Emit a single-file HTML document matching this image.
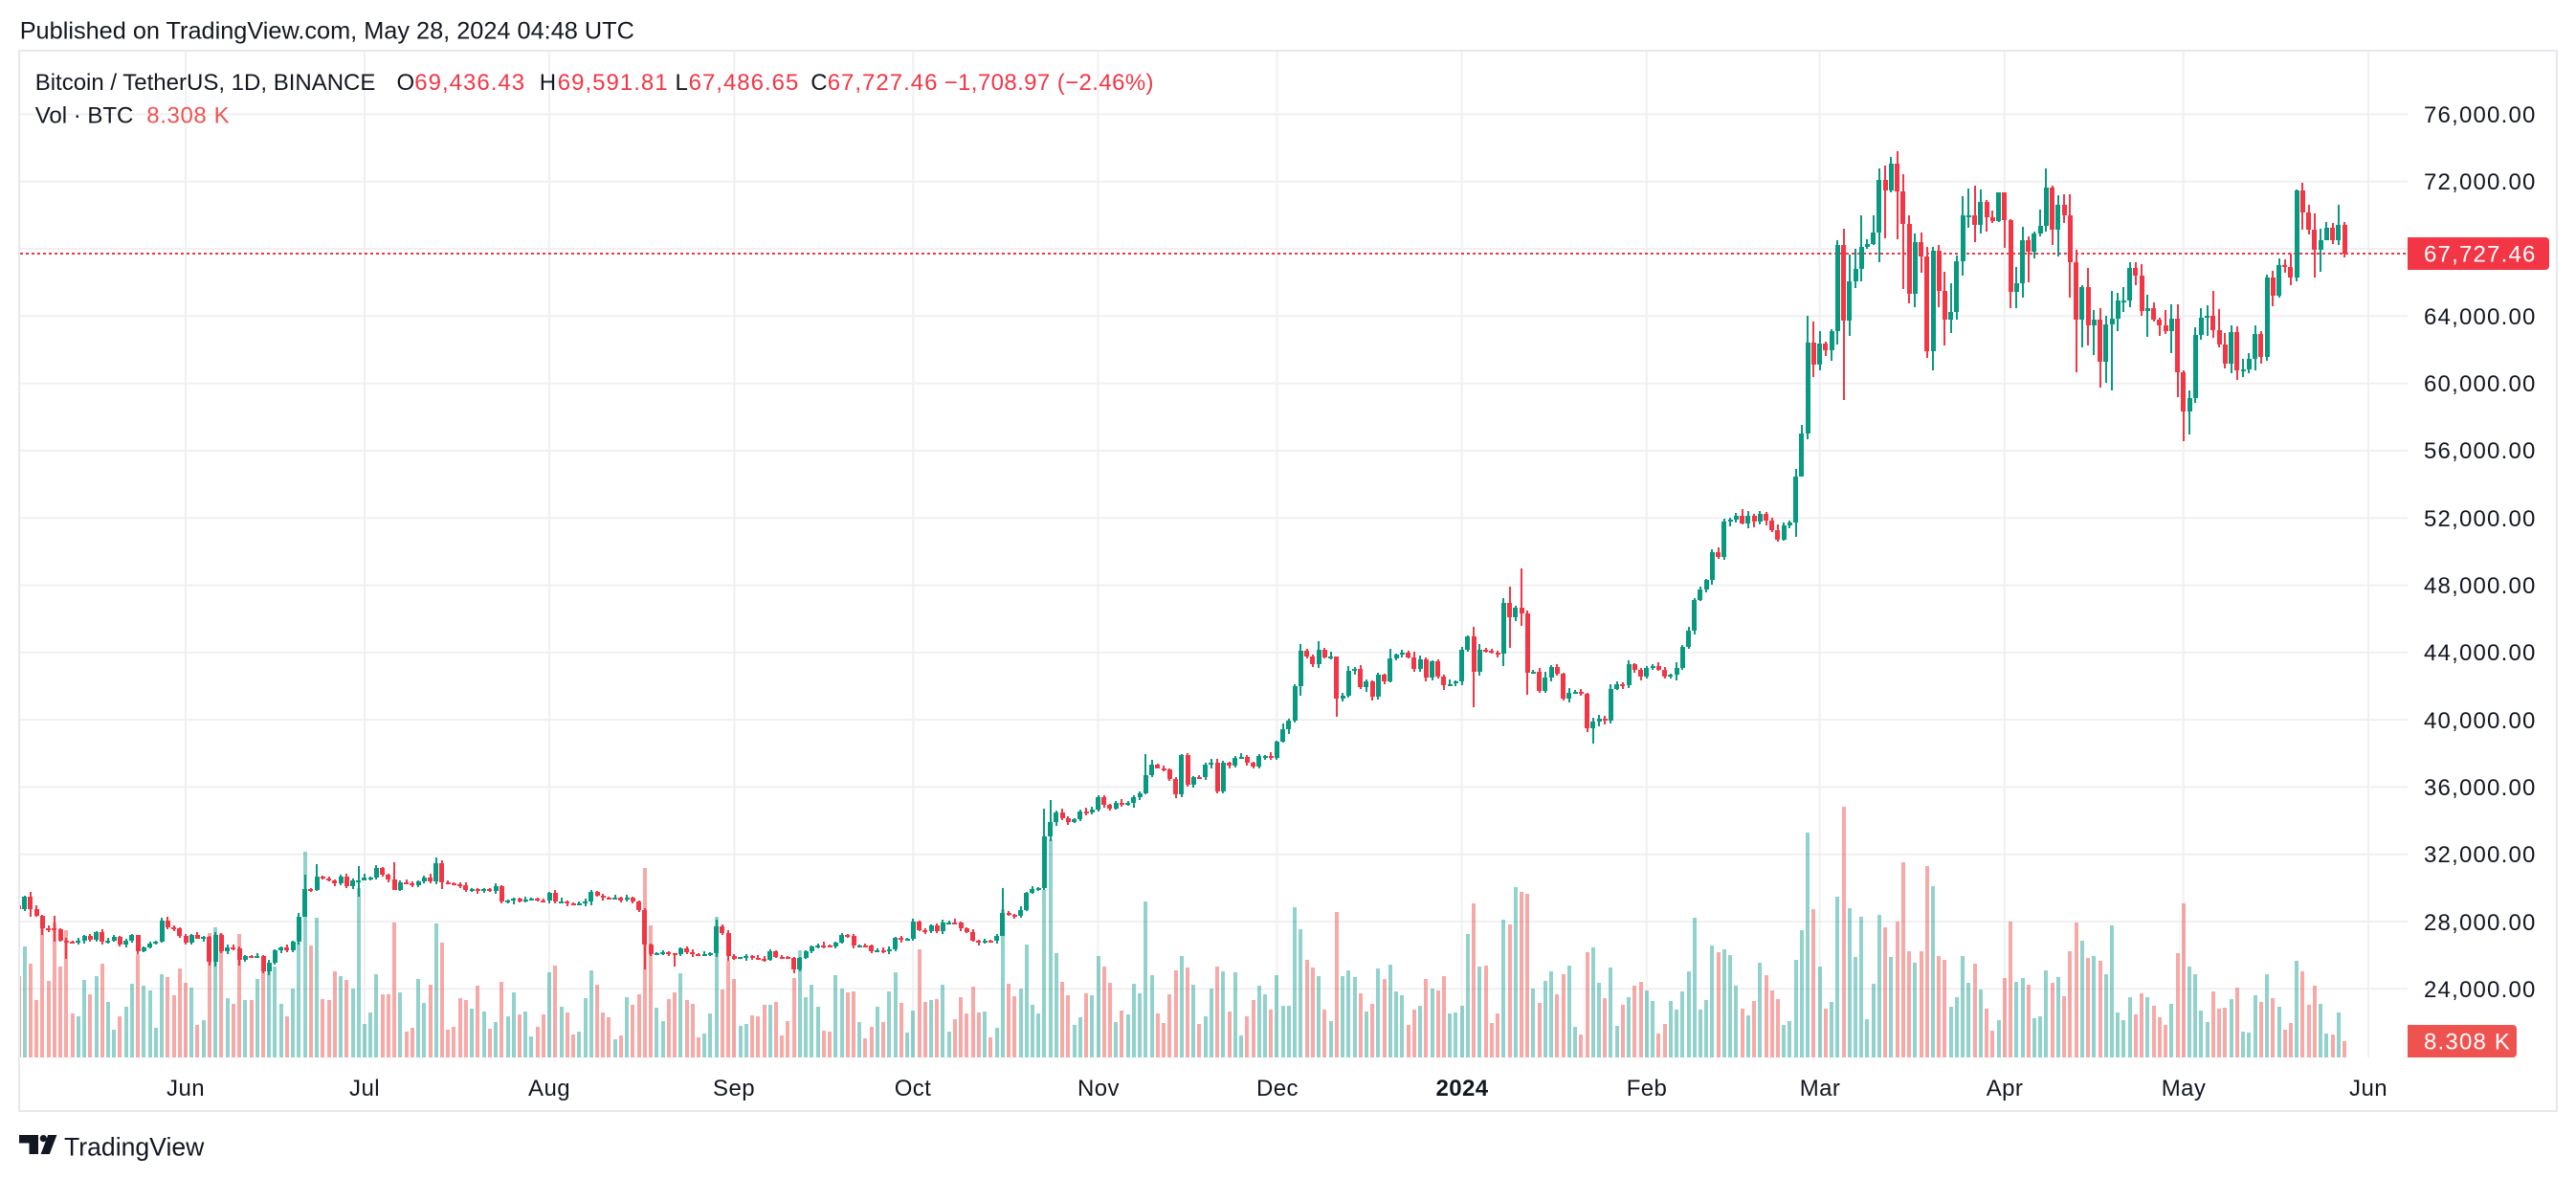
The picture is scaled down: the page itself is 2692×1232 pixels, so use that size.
<!DOCTYPE html>
<html><head><meta charset="utf-8"><style>
html,body{margin:0;padding:0;background:#fff;width:2692px;height:1232px;overflow:hidden;position:relative}
svg{display:block;font-family:"Liberation Sans",Arial,sans-serif;position:absolute;left:0;top:0}
#pane{position:absolute;left:21px;top:54px;width:2495px;height:1051px;overflow:hidden}
#pane i{position:absolute;display:block;width:4px;--a:1.5;--b:1.5;
 --vh:calc((855 - var(--v)) * 0.3333px);
 left:calc(171px + var(--i) * 6.2322px);
 top:calc(1051px - var(--vh));
 height:var(--vh);
 --H:var(--h,calc(var(--hi) + var(--c) * 0.0022 * var(--a)));
 --L:var(--l,calc(var(--lo) - var(--c) * 0.0022 * var(--b)));}
#pane i:nth-child(2n){--a:0.9}
#pane i:nth-child(3n){--b:2.4}
#pane i:nth-child(5n+1){--a:2.6}
#pane i:nth-child(7n+3){--b:0.6}
#pane i:nth-child(11n+4){--a:3.4}
#pane i:nth-child(13n+6){--b:3.2}
#pane i::before{content:"";position:absolute;left:1px;width:2px;
 top:calc(119.4px + (76000 - var(--H)) * 0.017575px - 1105px + var(--vh));
 height:calc((var(--H) - var(--L)) * 0.017575px);background:var(--col)}
#pane i::after{content:"";position:absolute;left:-0.5px;width:5px;
 top:calc(119.4px + (76000 - var(--hi)) * 0.017575px - 1105px + var(--vh));
 height:calc((var(--hi) - var(--lo)) * 0.017575px);min-height:2px;background:var(--col)}
#pane i.u{--hi:var(--c);--lo:var(--o);--col:#089981;background:rgba(38,166,154,.5)}
#pane i.d{--hi:var(--o);--lo:var(--c);--col:#f23645;background:rgba(239,83,80,.5)}
</style></head><body>
<svg xmlns="http://www.w3.org/2000/svg" width="2692" height="1232" viewBox="0 0 2692 1232">
<rect width="2692" height="1232" fill="#fff"/>
<g stroke="#f0f0f2" stroke-width="2">
<line x1="194" y1="54" x2="194" y2="1105"/>
<line x1="381" y1="54" x2="381" y2="1105"/>
<line x1="574" y1="54" x2="574" y2="1105"/>
<line x1="767.4" y1="54" x2="767.4" y2="1105"/>
<line x1="954.3" y1="54" x2="954.3" y2="1105"/>
<line x1="1147.5" y1="54" x2="1147.5" y2="1105"/>
<line x1="1334.5" y1="54" x2="1334.5" y2="1105"/>
<line x1="1527.6" y1="54" x2="1527.6" y2="1105"/>
<line x1="1720.8" y1="54" x2="1720.8" y2="1105"/>
<line x1="1901.6" y1="54" x2="1901.6" y2="1105"/>
<line x1="2094.8" y1="54" x2="2094.8" y2="1105"/>
<line x1="2281.7" y1="54" x2="2281.7" y2="1105"/>
<line x1="2475" y1="54" x2="2475" y2="1105"/>
<line x1="21" y1="119.4" x2="2516" y2="119.4"/>
<line x1="21" y1="189.7" x2="2516" y2="189.7"/>
<line x1="21" y1="260" x2="2516" y2="260"/>
<line x1="21" y1="330.3" x2="2516" y2="330.3"/>
<line x1="21" y1="400.6" x2="2516" y2="400.6"/>
<line x1="21" y1="470.9" x2="2516" y2="470.9"/>
<line x1="21" y1="541.2" x2="2516" y2="541.2"/>
<line x1="21" y1="611.5" x2="2516" y2="611.5"/>
<line x1="21" y1="681.8" x2="2516" y2="681.8"/>
<line x1="21" y1="752.1" x2="2516" y2="752.1"/>
<line x1="21" y1="822.4" x2="2516" y2="822.4"/>
<line x1="21" y1="892.7" x2="2516" y2="892.7"/>
<line x1="21" y1="963" x2="2516" y2="963"/>
<line x1="21" y1="1033.3" x2="2516" y2="1033.3"/>
</g>
<line x1="21" y1="265" x2="2516" y2="265" stroke="#f23645" stroke-width="2" stroke-dasharray="3 3"/>
<rect x="20" y="53" width="2652" height="1108" fill="none" stroke="#e8e8ee" stroke-width="2"/>

<g font-size="24" fill="#131722" letter-spacing="1.2">
<text x="2533" y="128">76,000.00</text>
<text x="2533" y="198">72,000.00</text>
<text x="2533" y="339">64,000.00</text>
<text x="2533" y="409">60,000.00</text>
<text x="2533" y="479">56,000.00</text>
<text x="2533" y="550">52,000.00</text>
<text x="2533" y="620">48,000.00</text>
<text x="2533" y="690">44,000.00</text>
<text x="2533" y="761">40,000.00</text>
<text x="2533" y="831">36,000.00</text>
<text x="2533" y="901">32,000.00</text>
<text x="2533" y="972">28,000.00</text>
<text x="2533" y="1042">24,000.00</text>
</g>
<path d="M2516 248 H2660 a4 4 0 0 1 4 4 V278 a4 4 0 0 1 -4 4 H2516 Z" fill="#f23645"/>
<text x="2533" y="273.5" font-size="24" fill="#fff" letter-spacing="1.2">67,727.46</text>
<path d="M2516 1071 H2626 a4 4 0 0 1 4 4 V1101 a4 4 0 0 1 -4 4 H2516 Z" fill="#ef5350"/>
<text x="2533" y="1096.5" font-size="24" fill="#fff" letter-spacing="1.2">8.308 K</text>

<g font-size="24" fill="#131722" text-anchor="middle" letter-spacing="0.4">
<text x="194" y="1145">Jun</text>
<text x="381" y="1145">Jul</text>
<text x="574" y="1145">Aug</text>
<text x="767" y="1145">Sep</text>
<text x="954" y="1145">Oct</text>
<text x="1148" y="1145">Nov</text>
<text x="1335" y="1145">Dec</text>
<text x="1528" y="1145" font-weight="bold">2024</text>
<text x="1721" y="1145">Feb</text>
<text x="1902" y="1145">Mar</text>
<text x="2095" y="1145">Apr</text>
<text x="2282" y="1145">May</text>
<text x="2475" y="1145">Jun</text>
</g>

<text x="20.7" y="40.7" font-size="25.3" fill="#131722">Published on TradingView.com, May 28, 2024 04:48 UTC</text>
<g font-size="24">
<text x="36.7" y="94" fill="#131722">Bitcoin / TetherUS, 1D, BINANCE</text>
<text x="414.5" y="94" fill="#131722">O</text>
<text x="433.3" y="94" fill="#f23645" letter-spacing="1">69,436.43</text>
<text x="563.8" y="94" fill="#131722">H</text>
<text x="582.8" y="94" fill="#f23645" letter-spacing="1">69,591.81</text>
<text x="705.5" y="94" fill="#131722">L</text>
<text x="719.6" y="94" fill="#f23645" letter-spacing="1">67,486.65</text>
<text x="847.3" y="94" fill="#131722">C</text>
<text x="864.7" y="94" fill="#f23645" letter-spacing="1">67,727.46</text>
<text x="986.6" y="94" fill="#f23645" letter-spacing="0.4">−1,708.97 (−2.46%)</text>
<text x="36.7" y="128.3" fill="#131722">Vol · BTC</text>
<text x="153.3" y="128.3" fill="#ef5350" letter-spacing="0.6">8.308 K</text>
</g>

<g fill="#131722">
<path d="M20 1186 H40 V1206 H30.5 V1194.5 H20 Z"/>
<circle cx="45.3" cy="1189.6" r="3.6"/>
<path d="M50.2 1186 H59.4 L51.8 1206 H42.6 Z"/>
</g>
<text x="67" y="1207.7" font-size="26.6" fill="#131722">TradingView</text>
</svg>

<div id="pane">
<i class="d" style="--i:-28;--o:28970;--c:28740;--v:600"></i>
<i class="u" style="--i:-27;--o:28740;--c:29480;--v:507"></i>
<i class="d" style="--i:-26;--o:29480;--c:28740;--v:561;--h:29760;--l:28300"></i>
<i class="d" style="--i:-25;--o:28740;--c:28360;--v:675"></i>
<i class="d" style="--i:-24;--o:28360;--c:27600;--v:450;--h:28380;--l:27220"></i>
<i class="d" style="--i:-23;--o:27600;--c:27580;--v:615"></i>
<i class="d" style="--i:-22;--o:27580;--c:27560;--v:432;--h:28330;--l:26800"></i>
<i class="d" style="--i:-21;--o:27560;--c:26880;--v:570"></i>
<i class="d" style="--i:-20;--o:26880;--c:26790;--v:456;--h:27050;--l:25800"></i>
<i class="d" style="--i:-19;--o:26790;--c:26720;--v:717"></i>
<i class="u" style="--i:-18;--o:26720;--c:26860;--v:726"></i>
<i class="u" style="--i:-17;--o:26860;--c:27150;--v:612"></i>
<i class="d" style="--i:-16;--o:27150;--c:26920;--v:657"></i>
<i class="u" style="--i:-15;--o:26920;--c:27370;--v:600"></i>
<i class="d" style="--i:-14;--o:27370;--c:26800;--v:561"></i>
<i class="u" style="--i:-13;--o:26800;--c:26860;--v:681"></i>
<i class="u" style="--i:-12;--o:26860;--c:27090;--v:768"></i>
<i class="d" style="--i:-11;--o:27090;--c:26650;--v:726"></i>
<i class="u" style="--i:-10;--o:26650;--c:26860;--v:696"></i>
<i class="u" style="--i:-9;--o:26860;--c:27200;--v:624"></i>
<i class="d" style="--i:-8;--o:27200;--c:26250;--v:531;--h:27220;--l:26080"></i>
<i class="u" style="--i:-7;--o:26250;--c:26480;--v:630"></i>
<i class="u" style="--i:-6;--o:26480;--c:26690;--v:645"></i>
<i class="u" style="--i:-5;--o:26690;--c:26800;--v:762"></i>
<i class="u" style="--i:-4;--o:26800;--c:28060;--v:594;--h:28200;--l:26760"></i>
<i class="d" style="--i:-3;--o:28060;--c:27660;--v:603"></i>
<i class="d" style="--i:-2;--o:27660;--c:27600;--v:660"></i>
<i class="d" style="--i:-1;--o:27600;--c:27150;--v:576"></i>
<i class="d" style="--i:0;--o:27150;--c:26750;--v:621"></i>
<i class="u" style="--i:1;--o:26750;--c:27220;--v:636"></i>
<i class="d" style="--i:2;--o:27220;--c:27000;--v:753"></i>
<i class="u" style="--i:3;--o:27000;--c:27100;--v:738"></i>
<i class="d" style="--i:4;--o:27100;--c:25610;--v:465;--h:27130;--l:25390"></i>
<i class="u" style="--i:5;--o:25610;--c:27220;--v:447;--h:27350;--l:25350"></i>
<i class="d" style="--i:6;--o:27220;--c:26230;--v:465"></i>
<i class="u" style="--i:7;--o:26230;--c:26460;--v:669"></i>
<i class="d" style="--i:8;--o:26460;--c:26400;--v:687"></i>
<i class="d" style="--i:9;--o:26400;--c:25720;--v:468;--h:26530;--l:25400"></i>
<i class="u" style="--i:10;--o:25720;--c:25950;--v:675"></i>
<i class="d" style="--i:11;--o:25950;--c:25900;--v:675"></i>
<i class="u" style="--i:12;--o:25900;--c:25950;--v:609"></i>
<i class="d" style="--i:13;--o:25950;--c:25040;--v:585"></i>
<i class="u" style="--i:14;--o:25040;--c:25550;--v:585;--h:25750;--l:24800"></i>
<i class="u" style="--i:15;--o:25550;--c:26290;--v:570"></i>
<i class="u" style="--i:16;--o:26290;--c:26460;--v:687"></i>
<i class="d" style="--i:17;--o:26460;--c:26290;--v:726"></i>
<i class="u" style="--i:18;--o:26290;--c:26800;--v:639"></i>
<i class="u" style="--i:19;--o:26800;--c:28280;--v:495"></i>
<i class="u" style="--i:20;--o:28280;--c:29935;--v:210;--h:30800;--l:28270"></i>
<i class="d" style="--i:21;--o:29935;--c:29880;--v:504"></i>
<i class="u" style="--i:22;--o:29880;--c:30670;--v:417;--h:31430;--l:29800"></i>
<i class="d" style="--i:23;--o:30670;--c:30550;--v:672"></i>
<i class="d" style="--i:24;--o:30550;--c:30470;--v:675"></i>
<i class="d" style="--i:25;--o:30470;--c:30270;--v:585"></i>
<i class="u" style="--i:26;--o:30270;--c:30690;--v:600"></i>
<i class="d" style="--i:27;--o:30690;--c:30080;--v:612"></i>
<i class="u" style="--i:28;--o:30080;--c:30450;--v:639"></i>
<i class="u" style="--i:29;--o:30450;--c:30470;--v:324;--h:31280;--l:29500"></i>
<i class="u" style="--i:30;--o:30470;--c:30590;--v:750"></i>
<i class="u" style="--i:31;--o:30590;--c:30620;--v:714"></i>
<i class="u" style="--i:32;--o:30620;--c:31160;--v:594"></i>
<i class="d" style="--i:33;--o:31160;--c:30770;--v:657"></i>
<i class="d" style="--i:34;--o:30770;--c:30510;--v:657"></i>
<i class="d" style="--i:35;--o:30510;--c:29900;--v:432;--h:31500;--l:29850"></i>
<i class="u" style="--i:36;--o:29900;--c:30350;--v:651"></i>
<i class="d" style="--i:37;--o:30350;--c:30290;--v:774"></i>
<i class="d" style="--i:38;--o:30290;--c:30170;--v:762"></i>
<i class="u" style="--i:39;--o:30170;--c:30410;--v:609"></i>
<i class="u" style="--i:40;--o:30410;--c:30620;--v:684"></i>
<i class="d" style="--i:41;--o:30620;--c:30390;--v:627"></i>
<i class="u" style="--i:42;--o:30390;--c:31470;--v:435;--h:31800;--l:30230"></i>
<i class="d" style="--i:43;--o:31470;--c:30320;--v:495;--h:31640;--l:29930"></i>
<i class="d" style="--i:44;--o:30320;--c:30290;--v:768"></i>
<i class="d" style="--i:45;--o:30290;--c:30240;--v:759"></i>
<i class="d" style="--i:46;--o:30240;--c:30140;--v:669"></i>
<i class="d" style="--i:47;--o:30140;--c:29860;--v:675"></i>
<i class="u" style="--i:48;--o:29860;--c:29910;--v:702"></i>
<i class="d" style="--i:49;--o:29910;--c:29800;--v:630"></i>
<i class="u" style="--i:50;--o:29800;--c:29910;--v:711"></i>
<i class="d" style="--i:51;--o:29910;--c:29800;--v:765"></i>
<i class="u" style="--i:52;--o:29800;--c:30080;--v:744"></i>
<i class="d" style="--i:53;--o:30080;--c:29180;--v:618"></i>
<i class="u" style="--i:54;--o:29180;--c:29230;--v:726"></i>
<i class="u" style="--i:55;--o:29230;--c:29350;--v:651"></i>
<i class="d" style="--i:56;--o:29350;--c:29210;--v:720"></i>
<i class="u" style="--i:57;--o:29210;--c:29310;--v:711"></i>
<i class="u" style="--i:58;--o:29310;--c:29350;--v:789"></i>
<i class="d" style="--i:59;--o:29350;--c:29280;--v:759"></i>
<i class="d" style="--i:60;--o:29280;--c:29230;--v:720"></i>
<i class="u" style="--i:61;--o:29230;--c:29700;--v:588"></i>
<i class="d" style="--i:62;--o:29700;--c:29170;--v:567"></i>
<i class="u" style="--i:63;--o:29170;--c:29180;--v:696"></i>
<i class="d" style="--i:64;--o:29180;--c:29070;--v:714"></i>
<i class="d" style="--i:65;--o:29070;--c:29050;--v:783"></i>
<i class="u" style="--i:66;--o:29050;--c:29080;--v:774"></i>
<i class="u" style="--i:67;--o:29080;--c:29180;--v:669"></i>
<i class="u" style="--i:68;--o:29180;--c:29770;--v:582"></i>
<i class="d" style="--i:69;--o:29770;--c:29560;--v:627"></i>
<i class="d" style="--i:70;--o:29560;--c:29430;--v:714"></i>
<i class="d" style="--i:71;--o:29430;--c:29400;--v:729"></i>
<i class="u" style="--i:72;--o:29400;--c:29420;--v:798"></i>
<i class="d" style="--i:73;--o:29420;--c:29280;--v:786"></i>
<i class="u" style="--i:74;--o:29280;--c:29400;--v:666"></i>
<i class="d" style="--i:75;--o:29400;--c:29170;--v:690"></i>
<i class="d" style="--i:76;--o:29170;--c:28700;--v:657"></i>
<i class="d" style="--i:77;--o:28700;--c:26620;--v:261;--h:28780;--l:25170"></i>
<i class="d" style="--i:78;--o:26620;--c:26050;--v:441"></i>
<i class="u" style="--i:79;--o:26050;--c:26100;--v:699"></i>
<i class="u" style="--i:80;--o:26100;--c:26190;--v:741"></i>
<i class="d" style="--i:81;--o:26190;--c:26120;--v:672"></i>
<i class="d" style="--i:82;--o:26120;--c:26040;--v:651;--h:26140;--l:25350"></i>
<i class="u" style="--i:83;--o:26040;--c:26430;--v:591"></i>
<i class="d" style="--i:84;--o:26430;--c:26160;--v:675"></i>
<i class="d" style="--i:85;--o:26160;--c:26060;--v:687"></i>
<i class="d" style="--i:86;--o:26060;--c:26010;--v:792"></i>
<i class="u" style="--i:87;--o:26010;--c:26090;--v:780"></i>
<i class="u" style="--i:88;--o:26090;--c:26100;--v:717"></i>
<i class="u" style="--i:89;--o:26100;--c:27720;--v:414;--h:28140;--l:25900"></i>
<i class="d" style="--i:90;--o:27720;--c:27300;--v:642"></i>
<i class="d" style="--i:91;--o:27300;--c:25930;--v:552;--h:27490;--l:25660"></i>
<i class="d" style="--i:92;--o:25930;--c:25800;--v:609"></i>
<i class="u" style="--i:93;--o:25800;--c:25870;--v:756"></i>
<i class="u" style="--i:94;--o:25870;--c:25970;--v:750"></i>
<i class="d" style="--i:95;--o:25970;--c:25820;--v:723"></i>
<i class="d" style="--i:96;--o:25820;--c:25790;--v:726"></i>
<i class="d" style="--i:97;--o:25790;--c:25750;--v:690"></i>
<i class="u" style="--i:98;--o:25750;--c:26240;--v:690"></i>
<i class="d" style="--i:99;--o:26240;--c:25910;--v:681"></i>
<i class="d" style="--i:100;--o:25910;--c:25900;--v:786"></i>
<i class="d" style="--i:101;--o:25900;--c:25840;--v:741"></i>
<i class="d" style="--i:102;--o:25840;--c:25160;--v:606;--h:25920;--l:24900"></i>
<i class="u" style="--i:103;--o:25160;--c:25840;--v:519"></i>
<i class="u" style="--i:104;--o:25840;--c:26220;--v:666"></i>
<i class="u" style="--i:105;--o:26220;--c:26530;--v:627"></i>
<i class="u" style="--i:106;--o:26530;--c:26600;--v:696"></i>
<i class="d" style="--i:107;--o:26600;--c:26570;--v:771"></i>
<i class="d" style="--i:108;--o:26570;--c:26530;--v:774"></i>
<i class="u" style="--i:109;--o:26530;--c:26760;--v:597"></i>
<i class="u" style="--i:110;--o:26760;--c:27210;--v:639"></i>
<i class="d" style="--i:111;--o:27210;--c:27130;--v:651"></i>
<i class="d" style="--i:112;--o:27130;--c:26570;--v:648"></i>
<i class="u" style="--i:113;--o:26570;--c:26580;--v:744"></i>
<i class="d" style="--i:114;--o:26580;--c:26570;--v:795"></i>
<i class="d" style="--i:115;--o:26570;--c:26250;--v:759"></i>
<i class="u" style="--i:116;--o:26250;--c:26300;--v:696"></i>
<i class="d" style="--i:117;--o:26300;--c:26210;--v:744"></i>
<i class="u" style="--i:118;--o:26210;--c:26350;--v:648"></i>
<i class="u" style="--i:119;--o:26350;--c:27030;--v:588"></i>
<i class="d" style="--i:120;--o:27030;--c:26910;--v:684"></i>
<i class="u" style="--i:121;--o:26910;--c:26970;--v:777"></i>
<i class="u" style="--i:122;--o:26970;--c:27990;--v:708"></i>
<i class="d" style="--i:123;--o:27990;--c:27500;--v:516"></i>
<i class="d" style="--i:124;--o:27500;--c:27430;--v:681"></i>
<i class="u" style="--i:125;--o:27430;--c:27790;--v:675"></i>
<i class="d" style="--i:126;--o:27790;--c:27410;--v:672"></i>
<i class="u" style="--i:127;--o:27410;--c:27930;--v:627"></i>
<i class="u" style="--i:128;--o:27930;--c:27960;--v:774"></i>
<i class="d" style="--i:129;--o:27960;--c:27920;--v:735"></i>
<i class="d" style="--i:130;--o:27920;--c:27600;--v:666"></i>
<i class="d" style="--i:131;--o:27600;--c:27390;--v:717"></i>
<i class="d" style="--i:132;--o:27390;--c:26870;--v:633"></i>
<i class="d" style="--i:133;--o:26870;--c:26760;--v:714"></i>
<i class="u" style="--i:134;--o:26760;--c:26860;--v:711"></i>
<i class="d" style="--i:135;--o:26860;--c:26850;--v:792"></i>
<i class="u" style="--i:136;--o:26850;--c:27150;--v:762"></i>
<i class="u" style="--i:137;--o:27150;--c:28520;--v:390;--h:30000;--l:27130"></i>
<i class="d" style="--i:138;--o:28520;--c:28410;--v:624"></i>
<i class="d" style="--i:139;--o:28410;--c:28330;--v:663"></i>
<i class="u" style="--i:140;--o:28330;--c:28710;--v:639"></i>
<i class="u" style="--i:141;--o:28710;--c:29680;--v:501"></i>
<i class="u" style="--i:142;--o:29680;--c:29920;--v:690"></i>
<i class="u" style="--i:143;--o:29920;--c:29990;--v:717"></i>
<i class="u" style="--i:144;--o:29990;--c:33070;--v:330;--h:34700;--l:29890"></i>
<i class="u" style="--i:145;--o:33070;--c:33930;--v:171;--h:35200;--l:32800"></i>
<i class="u" style="--i:146;--o:33930;--c:34500;--v:528"></i>
<i class="d" style="--i:147;--o:34500;--c:34150;--v:618"></i>
<i class="d" style="--i:148;--o:34150;--c:33910;--v:660"></i>
<i class="u" style="--i:149;--o:33910;--c:34090;--v:753"></i>
<i class="u" style="--i:150;--o:34090;--c:34540;--v:729"></i>
<i class="d" style="--i:151;--o:34540;--c:34480;--v:654"></i>
<i class="u" style="--i:152;--o:34480;--c:34640;--v:660"></i>
<i class="u" style="--i:153;--o:34640;--c:35420;--v:537"></i>
<i class="d" style="--i:154;--o:35420;--c:34940;--v:570"></i>
<i class="d" style="--i:155;--o:34940;--c:34730;--v:621"></i>
<i class="u" style="--i:156;--o:34730;--c:35080;--v:744"></i>
<i class="d" style="--i:157;--o:35080;--c:35020;--v:708"></i>
<i class="u" style="--i:158;--o:35020;--c:35040;--v:720"></i>
<i class="u" style="--i:159;--o:35040;--c:35420;--v:624"></i>
<i class="u" style="--i:160;--o:35420;--c:35630;--v:654"></i>
<i class="u" style="--i:161;--o:35630;--c:36700;--v:366;--h:37970;--l:35540"></i>
<i class="u" style="--i:162;--o:36700;--c:37310;--v:597"></i>
<i class="d" style="--i:163;--o:37310;--c:37130;--v:717"></i>
<i class="d" style="--i:164;--o:37130;--c:37060;--v:747"></i>
<i class="d" style="--i:165;--o:37060;--c:36490;--v:657"></i>
<i class="d" style="--i:166;--o:36490;--c:35550;--v:582"></i>
<i class="u" style="--i:167;--o:35550;--c:37880;--v:537;--h:37980;--l:35370"></i>
<i class="d" style="--i:168;--o:37880;--c:36160;--v:573"></i>
<i class="u" style="--i:169;--o:36160;--c:36590;--v:627"></i>
<i class="d" style="--i:170;--o:36590;--c:36570;--v:750"></i>
<i class="u" style="--i:171;--o:36570;--c:37360;--v:726"></i>
<i class="u" style="--i:172;--o:37360;--c:37450;--v:639"></i>
<i class="d" style="--i:173;--o:37450;--c:35750;--v:570;--h:37660;--l:35630"></i>
<i class="u" style="--i:174;--o:35750;--c:37420;--v:585"></i>
<i class="d" style="--i:175;--o:37420;--c:37290;--v:711"></i>
<i class="u" style="--i:176;--o:37290;--c:37720;--v:588"></i>
<i class="u" style="--i:177;--o:37720;--c:37800;--v:786"></i>
<i class="d" style="--i:178;--o:37800;--c:37450;--v:726"></i>
<i class="d" style="--i:179;--o:37450;--c:37240;--v:675"></i>
<i class="u" style="--i:180;--o:37240;--c:37820;--v:630"></i>
<i class="u" style="--i:181;--o:37820;--c:37850;--v:657"></i>
<i class="d" style="--i:182;--o:37850;--c:37720;--v:705"></i>
<i class="u" style="--i:183;--o:37720;--c:38690;--v:597"></i>
<i class="u" style="--i:184;--o:38690;--c:39460;--v:693"></i>
<i class="u" style="--i:185;--o:39460;--c:39970;--v:693"></i>
<i class="u" style="--i:186;--o:39970;--c:41980;--v:384"></i>
<i class="u" style="--i:187;--o:41980;--c:44080;--v:453;--h:44490;--l:41420"></i>
<i class="d" style="--i:188;--o:44080;--c:43770;--v:549"></i>
<i class="d" style="--i:189;--o:43770;--c:43290;--v:573"></i>
<i class="u" style="--i:190;--o:43290;--c:44170;--v:600;--h:44700;--l:43080"></i>
<i class="d" style="--i:191;--o:44170;--c:43710;--v:705"></i>
<i class="u" style="--i:192;--o:43710;--c:43780;--v:741"></i>
<i class="d" style="--i:193;--o:43780;--c:41240;--v:399;--h:43750;--l:40200"></i>
<i class="u" style="--i:194;--o:41240;--c:41450;--v:600"></i>
<i class="u" style="--i:195;--o:41450;--c:42890;--v:582"></i>
<i class="u" style="--i:196;--o:42890;--c:43020;--v:603"></i>
<i class="d" style="--i:197;--o:43020;--c:41940;--v:654"></i>
<i class="u" style="--i:198;--o:41940;--c:42280;--v:711"></i>
<i class="d" style="--i:199;--o:42280;--c:41360;--v:687"></i>
<i class="u" style="--i:200;--o:41360;--c:42660;--v:576"></i>
<i class="d" style="--i:201;--o:42660;--c:42270;--v:609"></i>
<i class="u" style="--i:202;--o:42270;--c:43650;--v:564;--h:44200;--l:42200"></i>
<i class="u" style="--i:203;--o:43650;--c:43860;--v:648"></i>
<i class="u" style="--i:204;--o:43860;--c:43990;--v:660"></i>
<i class="d" style="--i:205;--o:43990;--c:43730;--v:753"></i>
<i class="d" style="--i:206;--o:43730;--c:43010;--v:705"></i>
<i class="u" style="--i:207;--o:43010;--c:43580;--v:693"></i>
<i class="d" style="--i:208;--o:43580;--c:42510;--v:609"></i>
<i class="u" style="--i:209;--o:42510;--c:43470;--v:639"></i>
<i class="d" style="--i:210;--o:43470;--c:42580;--v:645"></i>
<i class="d" style="--i:211;--o:42580;--c:42070;--v:600"></i>
<i class="u" style="--i:212;--o:42070;--c:42140;--v:717"></i>
<i class="u" style="--i:213;--o:42140;--c:42280;--v:714"></i>
<i class="u" style="--i:214;--o:42280;--c:44180;--v:693"></i>
<i class="u" style="--i:215;--o:44180;--c:44950;--v:468"></i>
<i class="d" style="--i:216;--o:44950;--c:42850;--v:372;--h:45500;--l:40750"></i>
<i class="u" style="--i:217;--o:42850;--c:44150;--v:570"></i>
<i class="d" style="--i:218;--o:44150;--c:44120;--v:567"></i>
<i class="d" style="--i:219;--o:44120;--c:43970;--v:747"></i>
<i class="d" style="--i:220;--o:43970;--c:43930;--v:717"></i>
<i class="u" style="--i:221;--o:43930;--c:46970;--v:423;--h:47250;--l:43180"></i>
<i class="d" style="--i:222;--o:46970;--c:46120;--v:438;--h:47900;--l:44300"></i>
<i class="u" style="--i:223;--o:46120;--c:46660;--v:321"></i>
<i class="d" style="--i:224;--o:46660;--c:46340;--v:336;--h:48970;--l:45600"></i>
<i class="d" style="--i:225;--o:46340;--c:42780;--v:342;--h:46500;--l:41500"></i>
<i class="u" style="--i:226;--o:42780;--c:42840;--v:639"></i>
<i class="d" style="--i:227;--o:42840;--c:41730;--v:684"></i>
<i class="u" style="--i:228;--o:41730;--c:42510;--v:615"></i>
<i class="u" style="--i:229;--o:42510;--c:43150;--v:585"></i>
<i class="d" style="--i:230;--o:43150;--c:42740;--v:657"></i>
<i class="d" style="--i:231;--o:42740;--c:41260;--v:594"></i>
<i class="u" style="--i:232;--o:41260;--c:41620;--v:567"></i>
<i class="u" style="--i:233;--o:41620;--c:41670;--v:759"></i>
<i class="d" style="--i:234;--o:41670;--c:41540;--v:783"></i>
<i class="d" style="--i:235;--o:41540;--c:39500;--v:525"></i>
<i class="u" style="--i:236;--o:39500;--c:39880;--v:510;--h:40130;--l:38555"></i>
<i class="u" style="--i:237;--o:39880;--c:40080;--v:621"></i>
<i class="d" style="--i:238;--o:40080;--c:39930;--v:669"></i>
<i class="u" style="--i:239;--o:39930;--c:41820;--v:573"></i>
<i class="u" style="--i:240;--o:41820;--c:42120;--v:756"></i>
<i class="d" style="--i:241;--o:42120;--c:42030;--v:690"></i>
<i class="u" style="--i:242;--o:42030;--c:43300;--v:666"></i>
<i class="d" style="--i:243;--o:43300;--c:42940;--v:630"></i>
<i class="d" style="--i:244;--o:42940;--c:42580;--v:618"></i>
<i class="u" style="--i:245;--o:42580;--c:43080;--v:645"></i>
<i class="u" style="--i:246;--o:43080;--c:43190;--v:678"></i>
<i class="d" style="--i:247;--o:43190;--c:42990;--v:780"></i>
<i class="d" style="--i:248;--o:42990;--c:42580;--v:750"></i>
<i class="u" style="--i:249;--o:42580;--c:42660;--v:678"></i>
<i class="u" style="--i:250;--o:42660;--c:43090;--v:705"></i>
<i class="u" style="--i:251;--o:43090;--c:44340;--v:648"></i>
<i class="u" style="--i:252;--o:44340;--c:45290;--v:585"></i>
<i class="u" style="--i:253;--o:45290;--c:47130;--v:417"></i>
<i class="u" style="--i:254;--o:47130;--c:47750;--v:705"></i>
<i class="u" style="--i:255;--o:47750;--c:48290;--v:675"></i>
<i class="u" style="--i:256;--o:48290;--c:49960;--v:504"></i>
<i class="d" style="--i:257;--o:49960;--c:49700;--v:525"></i>
<i class="u" style="--i:258;--o:49700;--c:51800;--v:516"></i>
<i class="u" style="--i:259;--o:51800;--c:51900;--v:534"></i>
<i class="u" style="--i:260;--o:51900;--c:52120;--v:630"></i>
<i class="d" style="--i:261;--o:52120;--c:51660;--v:702"></i>
<i class="u" style="--i:262;--o:51660;--c:52120;--v:723"></i>
<i class="d" style="--i:263;--o:52120;--c:51780;--v:678"></i>
<i class="u" style="--i:264;--o:51780;--c:52260;--v:558"></i>
<i class="d" style="--i:265;--o:52260;--c:51850;--v:597"></i>
<i class="d" style="--i:266;--o:51850;--c:51300;--v:645"></i>
<i class="d" style="--i:267;--o:51300;--c:50730;--v:672"></i>
<i class="u" style="--i:268;--o:50730;--c:51570;--v:753"></i>
<i class="u" style="--i:269;--o:51570;--c:51730;--v:741"></i>
<i class="u" style="--i:270;--o:51730;--c:54480;--v:549;--h:54900;--l:50900"></i>
<i class="u" style="--i:271;--o:54480;--c:57040;--v:456;--h:57550;--l:54450"></i>
<i class="u" style="--i:272;--o:57040;--c:62430;--v:150;--h:64000;--l:56700"></i>
<i class="d" style="--i:273;--o:62430;--c:61130;--v:390;--h:63680;--l:60360"></i>
<i class="u" style="--i:274;--o:61130;--c:62390;--v:570;--h:63100;--l:60770"></i>
<i class="d" style="--i:275;--o:62390;--c:61990;--v:702;--h:62480;--l:61630"></i>
<i class="u" style="--i:276;--o:61990;--c:63100;--v:681;--h:63230;--l:61320"></i>
<i class="u" style="--i:277;--o:63100;--c:68240;--v:351;--h:68500;--l:62300"></i>
<i class="d" style="--i:278;--o:68240;--c:63720;--v:69;--h:69170;--l:59000"></i>
<i class="u" style="--i:279;--o:63720;--c:66070;--v:387;--h:67637;--l:62848"></i>
<i class="u" style="--i:280;--o:66070;--c:66830;--v:540;--h:67995;--l:65655"></i>
<i class="u" style="--i:281;--o:66830;--c:68120;--v:414;--h:69990;--l:66080"></i>
<i class="u" style="--i:282;--o:68120;--c:68310;--v:735;--h:68590;--l:67980"></i>
<i class="u" style="--i:283;--o:68310;--c:68950;--v:624;--h:69999;--l:68200"></i>
<i class="u" style="--i:284;--o:68950;--c:72100;--v:408;--h:72800;--l:67190"></i>
<i class="d" style="--i:285;--o:72100;--c:71450;--v:447;--h:72950;--l:68620"></i>
<i class="u" style="--i:286;--o:71450;--c:73070;--v:540;--h:73450;--l:71330"></i>
<i class="d" style="--i:287;--o:73070;--c:71390;--v:429;--h:73780;--l:68550"></i>
<i class="d" style="--i:288;--o:71390;--c:69500;--v:243;--h:72420;--l:65600"></i>
<i class="d" style="--i:289;--o:69500;--c:65300;--v:522;--h:70000;--l:64780"></i>
<i class="u" style="--i:290;--o:65300;--c:68390;--v:558;--h:68920;--l:64540"></i>
<i class="d" style="--i:291;--o:68390;--c:67550;--v:522;--h:68950;--l:66600"></i>
<i class="d" style="--i:292;--o:67550;--c:61910;--v:255;--h:68100;--l:61500"></i>
<i class="u" style="--i:293;--o:61910;--c:67910;--v:318;--h:68100;--l:60775"></i>
<i class="d" style="--i:294;--o:67910;--c:65500;--v:537;--h:68240;--l:64530"></i>
<i class="d" style="--i:295;--o:65500;--c:63800;--v:549;--h:66650;--l:62260"></i>
<i class="u" style="--i:296;--o:63800;--c:64220;--v:696;--h:65970;--l:63000"></i>
<i class="u" style="--i:297;--o:64220;--c:67240;--v:666;--h:67600;--l:63770"></i>
<i class="u" style="--i:298;--o:67240;--c:69990;--v:537;--h:71150;--l:66380"></i>
<i class="u" style="--i:299;--o:69990;--c:70000;--v:621;--h:71560;--l:69280"></i>
<i class="d" style="--i:300;--o:70000;--c:69450;--v:561;--h:71770;--l:68380"></i>
<i class="u" style="--i:301;--o:69450;--c:70780;--v:642;--h:71540;--l:68900"></i>
<i class="d" style="--i:302;--o:70780;--c:69890;--v:702;--h:70900;--l:69050"></i>
<i class="d" style="--i:303;--o:69890;--c:69650;--v:771;--h:70300;--l:69560"></i>
<i class="u" style="--i:304;--o:69650;--c:71330;--v:738;--h:71370;--l:69600"></i>
<i class="d" style="--i:305;--o:71330;--c:69700;--v:606;--h:71360;--l:68060"></i>
<i class="d" style="--i:306;--o:69700;--c:65460;--v:429;--h:69750;--l:64490"></i>
<i class="u" style="--i:307;--o:65460;--c:65960;--v:618;--h:66900;--l:64490"></i>
<i class="u" style="--i:308;--o:65960;--c:68500;--v:606;--h:69290;--l:65070"></i>
<i class="d" style="--i:309;--o:68500;--c:67840;--v:627;--h:68720;--l:66000"></i>
<i class="u" style="--i:310;--o:67840;--c:68900;--v:732;--h:69000;--l:67440"></i>
<i class="u" style="--i:311;--o:68900;--c:69360;--v:726;--h:70320;--l:68720"></i>
<i class="u" style="--i:312;--o:69360;--c:71620;--v:582;--h:72800;--l:69040"></i>
<i class="d" style="--i:313;--o:71620;--c:69150;--v:621;--h:71760;--l:68200"></i>
<i class="u" style="--i:314;--o:69150;--c:70630;--v:603;--h:71170;--l:67520"></i>
<i class="d" style="--i:315;--o:70630;--c:70010;--v:663;--h:71270;--l:69550"></i>
<i class="d" style="--i:316;--o:70010;--c:67200;--v:522;--h:71230;--l:65090"></i>
<i class="d" style="--i:317;--o:67200;--c:63770;--v:432;--h:67930;--l:60660"></i>
<i class="u" style="--i:318;--o:63770;--c:65740;--v:489;--h:65840;--l:62130"></i>
<i class="d" style="--i:319;--o:65740;--c:63420;--v:543;--h:66870;--l:62270"></i>
<i class="u" style="--i:320;--o:63420;--c:63790;--v:537;--h:64360;--l:61710"></i>
<i class="d" style="--i:321;--o:63790;--c:61280;--v:552;--h:64470;--l:59770"></i>
<i class="u" style="--i:322;--o:61280;--c:63510;--v:594;--h:64000;--l:60050"></i>
<i class="u" style="--i:323;--o:63510;--c:63840;--v:441;--h:65500;--l:59600"></i>
<i class="u" style="--i:324;--o:63840;--c:64930;--v:714;--h:65390;--l:63090"></i>
<i class="u" style="--i:325;--o:64930;--c:64940;--v:738;--h:65700;--l:64230"></i>
<i class="u" style="--i:326;--o:64940;--c:66840;--v:666;--h:67230;--l:64510"></i>
<i class="d" style="--i:327;--o:66840;--c:66410;--v:720;--h:67200;--l:65860"></i>
<i class="d" style="--i:328;--o:66410;--c:64280;--v:654;--h:67090;--l:63990"></i>
<i class="u" style="--i:329;--o:64280;--c:64500;--v:666;--h:65280;--l:62790"></i>
<i class="d" style="--i:330;--o:64500;--c:63770;--v:693;--h:64790;--l:63660"></i>
<i class="d" style="--i:331;--o:63770;--c:63460;--v:729;--h:63920;--l:62850"></i>
<i class="d" style="--i:332;--o:63460;--c:63120;--v:753;--h:64360;--l:62950"></i>
<i class="u" style="--i:333;--o:63120;--c:63870;--v:687;--h:64700;--l:61800"></i>
<i class="d" style="--i:334;--o:63870;--c:60670;--v:528;--h:64720;--l:59190"></i>
<i class="d" style="--i:335;--o:60670;--c:58320;--v:372;--h:60780;--l:56550"></i>
<i class="u" style="--i:336;--o:58320;--c:59120;--v:570;--h:59600;--l:56940"></i>
<i class="u" style="--i:337;--o:59120;--c:62890;--v:594;--h:63320;--l:58850"></i>
<i class="u" style="--i:338;--o:62890;--c:63890;--v:708;--h:64490;--l:62600"></i>
<i class="u" style="--i:339;--o:63890;--c:64030;--v:744;--h:64650;--l:62850"></i>
<i class="d" style="--i:340;--o:64030;--c:63160;--v:648;--h:65500;--l:62700"></i>
<i class="d" style="--i:341;--o:63160;--c:62330;--v:702;--h:64400;--l:62150"></i>
<i class="d" style="--i:342;--o:62330;--c:61190;--v:699;--h:62990;--l:60890"></i>
<i class="u" style="--i:343;--o:61190;--c:63050;--v:672;--h:63440;--l:60630"></i>
<i class="d" style="--i:344;--o:63050;--c:60790;--v:636;--h:63400;--l:60190"></i>
<i class="u" style="--i:345;--o:60790;--c:60820;--v:774;--h:61440;--l:60400"></i>
<i class="u" style="--i:346;--o:60820;--c:61480;--v:777;--h:61820;--l:60630"></i>
<i class="u" style="--i:347;--o:61480;--c:62940;--v:660;--h:63450;--l:60750"></i>
<i class="d" style="--i:348;--o:62940;--c:61580;--v:681;--h:63100;--l:61150"></i>
<i class="u" style="--i:349;--o:61580;--c:66270;--v:594;--h:66440;--l:61320"></i>
<i class="d" style="--i:350;--o:66270;--c:65230;--v:669;--h:66700;--l:64610"></i>
<i class="u" style="--i:351;--o:65230;--c:67050;--v:696;--h:67440;--l:65120"></i>
<i class="d" style="--i:352;--o:67050;--c:66940;--v:768;--h:67400;--l:66600"></i>
<i class="d" style="--i:353;--o:66940;--c:66270;--v:747;--h:67700;--l:65860"></i>
<i class="u" style="--i:354;--o:66270;--c:71450;--v:552;--h:71500;--l:66060"></i>
<i class="d" style="--i:355;--o:71450;--c:70140;--v:585;--h:71950;--l:69160"></i>
<i class="d" style="--i:356;--o:70140;--c:69120;--v:690;--h:70600;--l:68870"></i>
<i class="d" style="--i:357;--o:69120;--c:67930;--v:630;--h:70080;--l:66310"></i>
<i class="u" style="--i:358;--o:67930;--c:68530;--v:687;--h:69210;--l:66610"></i>
<i class="u" style="--i:359;--o:68530;--c:69280;--v:780;--h:69600;--l:68490"></i>
<i class="d" style="--i:360;--o:69280;--c:68510;--v:783;--h:69550;--l:68300"></i>
<i class="u" style="--i:361;--o:68510;--c:69440;--v:714;--h:70620;--l:68230"></i>
<i class="d" style="--i:362;--o:69436.43;--c:67727.46;--v:804;--h:69591.81;--l:67486.65"></i>
</div>
</body></html>
